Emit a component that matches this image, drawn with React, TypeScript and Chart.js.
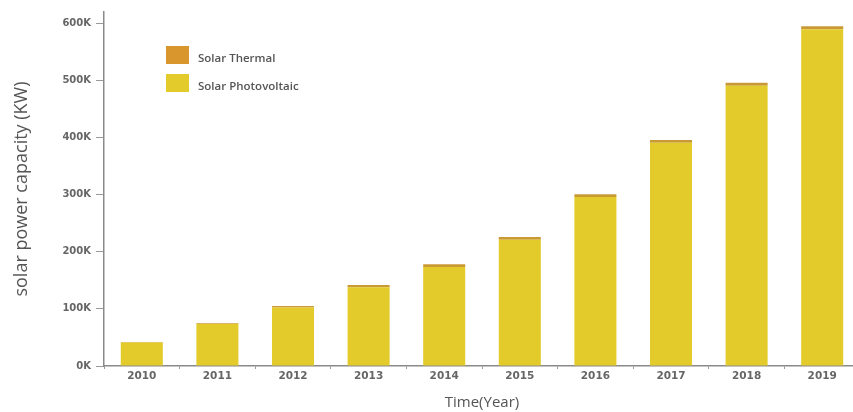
import React, { useEffect, useRef } from "react";
import { Chart, registerables } from "chart.js";

Chart.register(...registerables);

const years = ["2010", "2011", "2012", "2013", "2014", "2015", "2016", "2017", "2018", "2019"];
// values in kW
const solarThermal = [1000, 1500, 2500, 4000, 4500, 5000, 5000, 5000, 5000, 5000];
const solarPhotovoltaic = [41000, 73500, 102500, 138000, 173500, 221000, 296000, 391000, 491000, 590000];
const yTickValues = [0, 100000, 200000, 300000, 400000, 500000, 600000];

const thermalColor = "#D8962C";
const pvColor = "#E4CB2C";

const legendPlugin = {
  id: "insideLegend",
  afterDraw(chart: any) {
    const { ctx, chartArea } = chart;
    const ds = [...chart.data.datasets].reverse();
    ctx.save();
    ds.forEach((d: any, i: number) => {
      const x = chartArea.left + 62;
      const y = chartArea.top + 34 + i * 28;
      ctx.fillStyle = d.legendColor || d.backgroundColor;
      ctx.fillRect(x, y, 23, 18);
      ctx.fillStyle = "#555";
      ctx.font = "600 11.5px 'Open Sans'";
      ctx.textBaseline = "middle";
      ctx.textAlign = "left";
      ctx.fillText(d.label, x + 32, y + 13);
    });
    ctx.restore();
  },
};

export default function App() {
  const ref = useRef<HTMLCanvasElement>(null);
  useEffect(() => {
    const chart = new Chart(ref.current!, {
      type: "bar",
      data: {
        labels: years,
        datasets: [
          { label: "Solar Photovoltaic", data: solarPhotovoltaic, backgroundColor: pvColor, barPercentage: 0.556, categoryPercentage: 1 },
          { label: "Solar Thermal", data: solarThermal, backgroundColor: "#C99A34", legendColor: thermalColor, barPercentage: 0.556, categoryPercentage: 1 } as any,
        ],
      },
      plugins: [legendPlugin],
      options: {
        animation: false,
        responsive: false,
        layout: { padding: { top: 12, right: 0, left: 0, bottom: 0 } },
        plugins: { legend: { display: false }, tooltip: { enabled: false } },
        scales: {
          x: {
            stacked: true,
            afterFit: (s: any) => { s.height = 46; },
            grid: { offset: true, drawOnChartArea: false, tickLength: 3, color: "#9a9a9a" },
            border: { color: "#8a8a8a", width: 1.5 },
            ticks: { color: "#666", padding: 1, font: { family: "'DejaVu Sans'", weight: "bold", size: 10.5 } },
            title: { display: true, text: "Time(Year)", color: "#555", padding: 0, font: { family: "'Open Sans'", size: 15 } },
          },
          y: {
            stacked: true,
            min: 0,
            max: 620000,
            afterFit: (s: any) => { s.width = 104; },
            afterBuildTicks: (s: any) => { s.ticks = yTickValues.map((v) => ({ value: v })); },
            grid: { drawOnChartArea: false, tickLength: 8, color: "#9a9a9a" },
            border: { color: "#8a8a8a", width: 1.5 },
            ticks: {
              color: "#666",
              padding: 5,
              font: { family: "'DejaVu Sans'", weight: "bold", size: 10 },
              callback: (v: any) => `${Number(v) / 1000}K`,
            },
            title: { display: true, text: "solar power capacity (KW)", color: "#555", padding: { top: 11, bottom: 0 }, font: { family: "'Open Sans'", size: 18 } },
          },
        },
      },
    });
    return () => chart.destroy();
  }, []);
  return (
    <div style={{ position: "fixed", left: 0, top: 0, width: 853, height: 412, overflow: "hidden", background: "#fff" }}>
      <canvas ref={ref} width={860} height={412} />
    </div>
  );
}
